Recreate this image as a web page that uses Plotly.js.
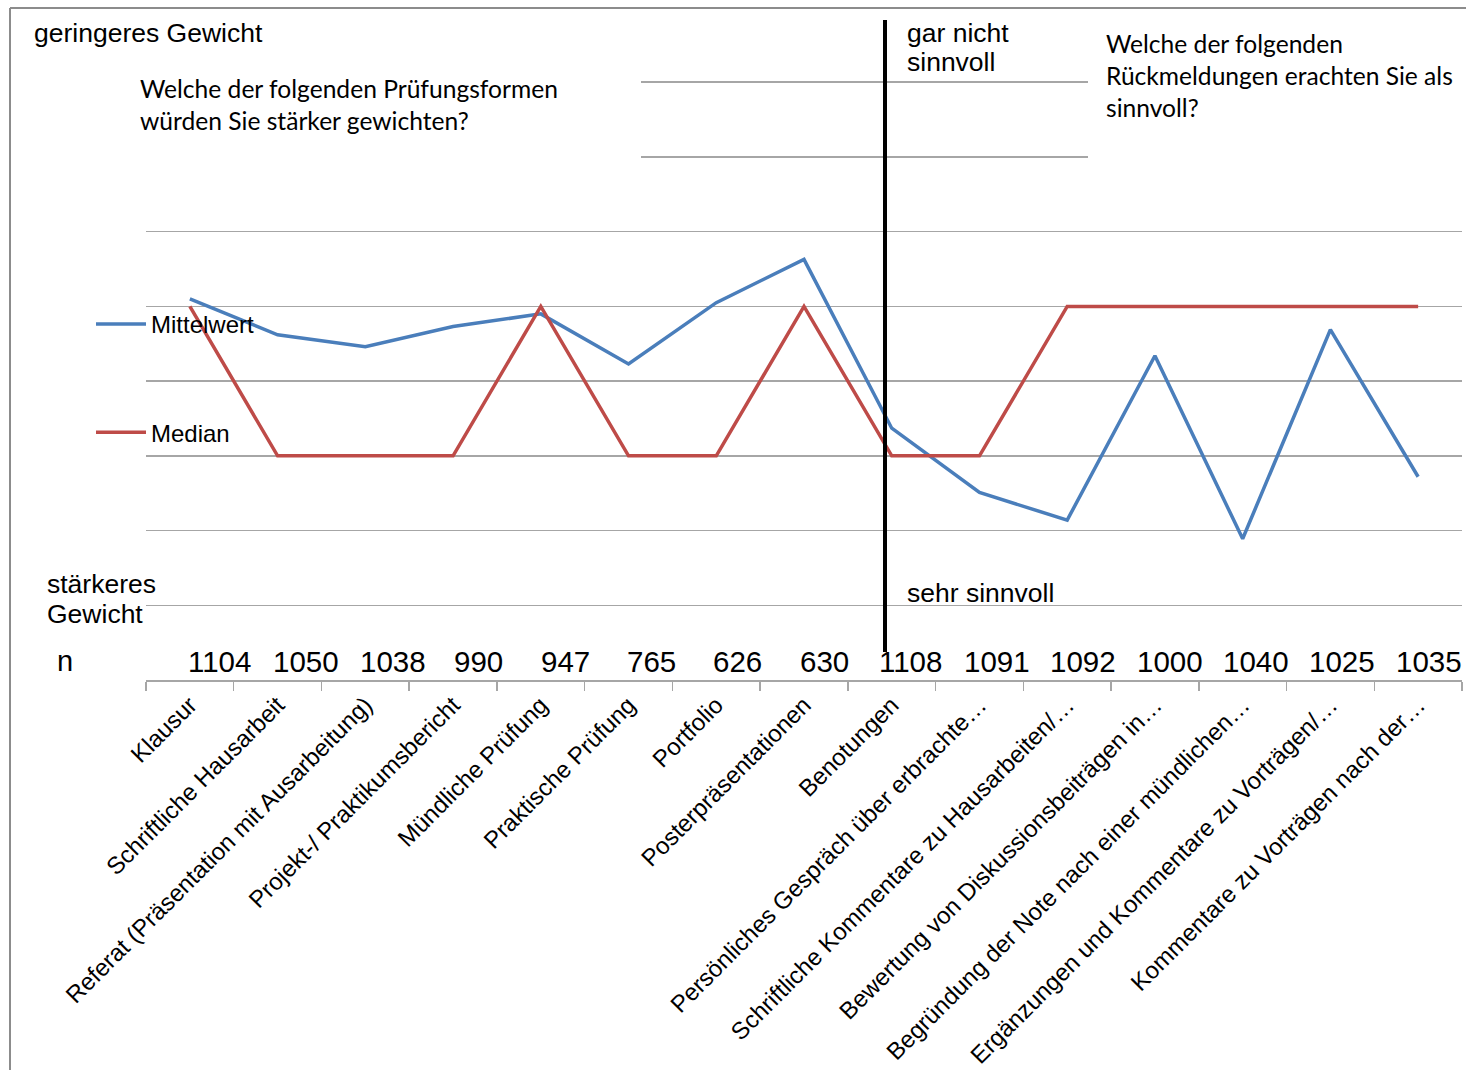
<!DOCTYPE html>
<html>
<head>
<meta charset="utf-8">
<script src="https://cdn.plot.ly/plotly-3.0.1.min.js"></script>
<style>
  html, body { margin: 0; padding: 0; background: #ffffff; }
  #chart { width: 1466px; height: 1070px; }
</style>
</head>
<body>
<div id="chart"></div>
<script>
// ---- data ----
const categories = [
  "Klausur",
  "Schriftliche Hausarbeit",
  "Referat (Präsentation mit Ausarbeitung)",
  "Projekt-/ Praktikumsbericht",
  "Mündliche Prüfung",
  "Praktische Prüfung",
  "Portfolio",
  "Posterpräsentationen",
  "Benotungen",
  "Persönliches Gespräch über erbrachte…",
  "Schriftliche Kommentare zu Hausarbeiten/…",
  "Bewertung von Diskussionsbeiträgen in…",
  "Begründung der Note nach einer mündlichen…",
  "Ergänzungen und Kommentare zu Vorträgen/…",
  "Kommentare zu Vorträgen nach der…"
];
const mittelwert = [5.10, 4.62, 4.46, 4.73, 4.90, 4.23, 5.05, 5.63, 3.37, 2.51, 2.14, 4.34, 1.89, 4.69, 2.72];
const median     = [5, 3, 3, 3, 5, 3, 3, 5, 3, 3, 5, 5, 5, 5, 5];
const nValues    = ["1104", "1050", "1038", "990", "947", "765", "626", "630", "1108", "1091", "1092", "1000", "1040", "1025", "1035"];
const seriesNames = ["Mittelwert", "Median"];

// ---- layout helpers (pixel -> paper) ----
const W = 1466, H = 1070;
const M = { l: 146, r: 4, t: 80, b: 390 };
const PW = W - M.l - M.r, PH = H - M.t - M.b;
const px = x => (x - M.l) / PW;
const py = y => (H - M.b - y) / PH;

const ARIAL = "Liberation Sans, Arial, sans-serif";
const CALI = "Lato, Carlito, Calibri, sans-serif";

const traces = [
  { x: categories, y: mittelwert, name: seriesNames[0], type: "scatter", mode: "lines",
    line: { color: "#4a7ebb", width: 3.5 }, legendgroup: "a", hoverinfo: "x+y" },
  { x: categories, y: median, name: seriesNames[1], type: "scatter", mode: "lines",
    line: { color: "#be4b48", width: 3.5 }, legendgroup: "b", hoverinfo: "x+y" }
];

const annotations = [];
function txt(text, x, y, size, font, extra) {
  annotations.push(Object.assign({
    text: text, xref: "paper", yref: "paper", x: px(x), y: py(y),
    xanchor: "left", yanchor: "middle", showarrow: false, align: "left",
    font: { family: font, size: size, color: "#000000" }
  }, extra || {}));
}
txt("geringeres Gewicht", 32, 33, 26.5, ARIAL);
txt("Welche der folgenden Prüfungsformen<br>würden Sie stärker gewichten?", 138, 104, 24.6, CALI);
txt("gar nicht", 905, 33, 26.5, ARIAL);
txt("sinnvoll", 905, 62, 26.5, ARIAL);
txt("Welche der folgenden<br>Rückmeldungen erachten Sie als<br>sinnvoll?", 1104, 75, 24.6, CALI);
txt("stärkeres", 45, 584, 26.5, ARIAL);
txt("Gewicht", 45, 614, 26.5, ARIAL);
txt("sehr sinnvoll", 905, 593, 26.5, ARIAL);
txt("n", 55, 661, 29, ARIAL);
nValues.forEach((v, i) => {
  annotations.push({
    text: v, xref: "x", yref: "paper", x: categories[i], y: py(661),
    xanchor: "center", yanchor: "middle", xshift: 30 - 1.4 * i, showarrow: false,
    font: { family: ARIAL, size: 29.5, color: "#000000" }
  });
});

const shapes = [
  // white text-box backgrounds covering upper gridlines
  { type: "rect", xref: "paper", yref: "paper", x0: px(0), x1: px(641), y0: py(175), y1: py(20),
    fillcolor: "#ffffff", line: { width: 0 }, layer: "above" },
  { type: "rect", xref: "paper", yref: "paper", x0: px(1088), x1: px(1466), y0: py(175), y1: py(20),
    fillcolor: "#ffffff", line: { width: 0 }, layer: "above" },
  // separator line
  { type: "line", xref: "paper", yref: "paper", x0: px(885), x1: px(885), y0: py(652), y1: py(20),
    line: { color: "#000000", width: 4 }, layer: "above" },
  // chart frame (top and left)
  { type: "line", xref: "paper", yref: "paper", x0: px(10), x1: px(1466), y0: py(8), y1: py(8),
    line: { color: "#8c8c8c", width: 2 }, layer: "above" },
  { type: "line", xref: "paper", yref: "paper", x0: px(10), x1: px(10), y0: py(8), y1: py(1070),
    line: { color: "#8c8c8c", width: 2 }, layer: "above" }
];

const layout = {
  width: W, height: H,
  margin: M,
  paper_bgcolor: "#ffffff", plot_bgcolor: "#ffffff",
  showlegend: true,
  legend: {
    x: px(91), y: py(302), xanchor: "left", yanchor: "top",
    bgcolor: "rgba(0,0,0,0)", borderwidth: 0, tracegroupgap: 74, itemwidth: 50,
    font: { family: ARIAL, size: 24, color: "#000000" }
  },
  xaxis: {
    type: "category", tickangle: -45, tickson: "boundaries",
    ticks: "outside", ticklen: 9, tickcolor: "#a6a6a6", tickwidth: 1.5,
    showline: true, linecolor: "#a6a6a6", linewidth: 1.5,
    showgrid: false, zeroline: false,
    tickfont: { family: ARIAL, size: 24, color: "#000000" },
    range: [-0.5, categories.length - 0.5]
  },
  yaxis: {
    range: [0, 8.03], dtick: 1, tick0: 0, showticklabels: false,
    showgrid: true, gridcolor: "#a6a6a6", gridwidth: 1.5,
    zeroline: false, showline: false, ticks: ""
  },
  annotations: annotations,
  shapes: shapes
};

Plotly.newPlot("chart", traces, layout, { displayModeBar: false, staticPlot: true });
</script>
</body>
</html>
